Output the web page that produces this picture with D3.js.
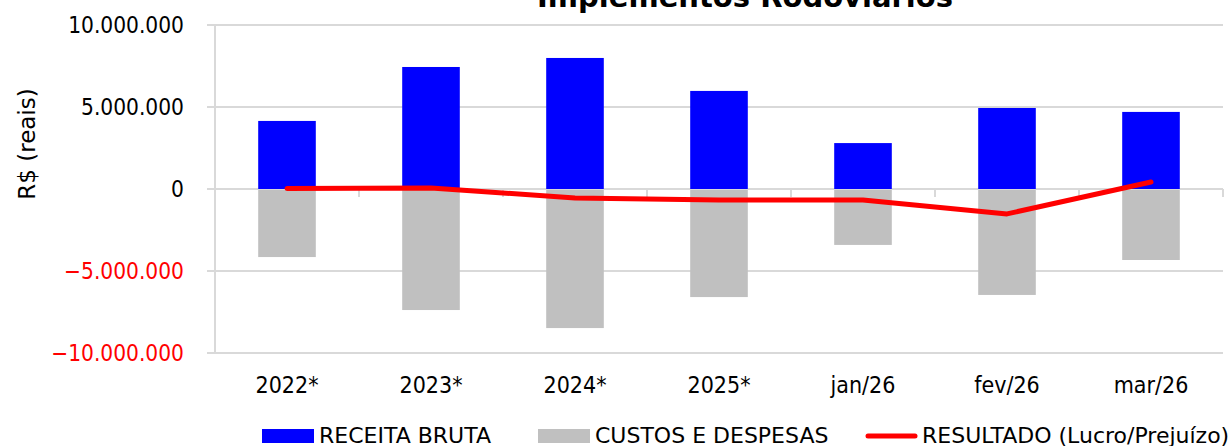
<!DOCTYPE html>
<meta charset="utf-8">
<style>
  body { margin: 0; background: #fff; }
  svg text { font-family: "DejaVu Sans Condensed", "DejaVu Sans", sans-serif; }
  .grid line { stroke: #d9d9d9; stroke-width: 2px; }
</style>
<body>
<script src="https://d3js.org/d3.v7.min.js"></script>
<script>

// chart data
var categories = ["2022*", "2023*", "2024*", "2025*", "jan/26", "fev/26", "mar/26"];
var receita   = [4150000, 7440000, 7990000, 5980000, 2800000, 4940000, 4700000];
var custos    = [-4150000, -7380000, -8480000, -6590000, -3410000, -6460000, -4330000];
var resultado = [30000, 60000, -550000, -670000, -670000, -1520000, 430000];
var yTicks = [-10000000, -5000000, 0, 5000000, 10000000];
var legendItems = ["RECEITA BRUTA", "CUSTOS E DESPESAS", "RESULTADO (Lucro/Prejuízo)"];

var width = 1230, height = 446;
var plotLeft = 215, plotRight = 1223, plotTop = 25, plotBottom = 353;

var br = d3.formatLocale({ decimal: ",", thousands: ".", grouping: [3], currency: ["R$", ""] });
var fmt = br.format(",.0f");

var svg = d3.select("body").append("svg")
    .attr("width", width).attr("height", height);

var x = d3.scaleBand()
    .domain(categories)
    .range([plotLeft, plotRight])
    .padding(0);

var y = d3.scaleLinear()
    .domain([-10000000, 10000000])
    .range([plotBottom, plotTop]);

var barW = x.bandwidth() * 0.4;
function cx(d) { return x(d) + x.bandwidth() / 2; }

// horizontal gridlines
svg.append("g").attr("class", "grid")
    .selectAll("line")
    .data(yTicks)
    .enter().append("line")
    .attr("x1", plotLeft - 8).attr("x2", plotRight)
    .attr("y1", function(d) { return y(d); })
    .attr("y2", function(d) { return y(d); });

// vertical axis line
svg.append("line")
    .attr("x1", plotLeft).attr("x2", plotLeft)
    .attr("y1", plotTop).attr("y2", plotBottom)
    .attr("stroke", "#d9d9d9").attr("stroke-width", 2);

// category ticks on zero line
svg.append("g")
    .selectAll("line")
    .data(categories)
    .enter().append("line")
    .attr("x1", function(d) { return x(d) + x.bandwidth(); })
    .attr("x2", function(d) { return x(d) + x.bandwidth(); })
    .attr("y1", y(0)).attr("y2", y(0) + 8)
    .attr("stroke", "#d9d9d9").attr("stroke-width", 2);

// y labels
svg.append("g")
    .selectAll("text")
    .data(yTicks)
    .enter().append("text")
    .attr("x", 184)
    .attr("y", function(d) { return y(d); })
    .attr("dy", "0.36em")
    .attr("text-anchor", "end")
    .attr("font-size", 22.5)
    .attr("fill", function(d) { return d < 0 ? "#ff0000" : "#000"; })
    .text(function(d) { return fmt(d); });

// y title
svg.append("text")
    .attr("transform", "translate(35,144) rotate(-90)")
    .attr("text-anchor", "middle")
    .attr("font-size", 23)
    .style("font-family", "'DejaVu Sans', sans-serif")
    .text("R$ (reais)");

// x labels
svg.append("g")
    .selectAll("text")
    .data(categories)
    .enter().append("text")
    .attr("x", cx)
    .attr("y", 393)
    .attr("text-anchor", "middle")
    .attr("font-size", 23)
    .text(function(d) { return d; });

// bars
svg.append("g")
    .selectAll("rect")
    .data(categories)
    .enter().append("rect")
    .attr("x", function(d) { return cx(d) - barW / 2; })
    .attr("width", barW)
    .attr("y", function(d, i) { return y(receita[i]); })
    .attr("height", function(d, i) { return y(0) - y(receita[i]); })
    .attr("fill", "#0000ff");

svg.append("g")
    .selectAll("rect")
    .data(categories)
    .enter().append("rect")
    .attr("x", function(d) { return cx(d) - barW / 2; })
    .attr("width", barW)
    .attr("y", y(0) + 1)
    .attr("height", function(d, i) { return y(custos[i]) - y(0) - 1; })
    .attr("fill", "#c0c0c0");

// resultado line
var line = d3.line()
    .x(function(d, i) { return cx(categories[i]); })
    .y(function(d) { return y(d); });

svg.append("path")
    .datum(resultado)
    .attr("d", line)
    .attr("fill", "none")
    .attr("stroke", "#ff0000")
    .attr("stroke-width", 5)
    .attr("stroke-linecap", "round")
    .attr("stroke-linejoin", "round");

// title, mostly above the frame
svg.append("text")
    .attr("x", 745).attr("y", 7)
    .attr("text-anchor", "middle")
    .attr("font-size", 29)
    .attr("font-weight", "bold")
    .style("font-family", "'DejaVu Sans', sans-serif")
    .text("Implementos Rodoviários");

// legend
var legendX = [262, 538, 865];
var lg = svg.append("g").selectAll("g")
    .data(legendItems)
    .enter().append("g")
    .attr("transform", function(d, i) { return "translate(" + legendX[i] + ",0)"; });

lg.each(function(d, i) {
    var g = d3.select(this);
    if (i < 2) {
        g.append("rect")
            .attr("x", 0).attr("y", 429)
            .attr("width", 52).attr("height", 14)
            .attr("fill", i === 0 ? "#0000ff" : "#c0c0c0");
    } else {
        g.append("line")
            .attr("x1", 3).attr("x2", 50)
            .attr("y1", 436).attr("y2", 436)
            .attr("stroke", "#ff0000").attr("stroke-width", 5)
            .attr("stroke-linecap", "round");
    }
    g.append("text")
        .attr("x", 57).attr("y", 443)
        .attr("font-size", 22)
        .style("font-family", "'DejaVu Sans', sans-serif")
        .text(d);
});

</script>
</body>
